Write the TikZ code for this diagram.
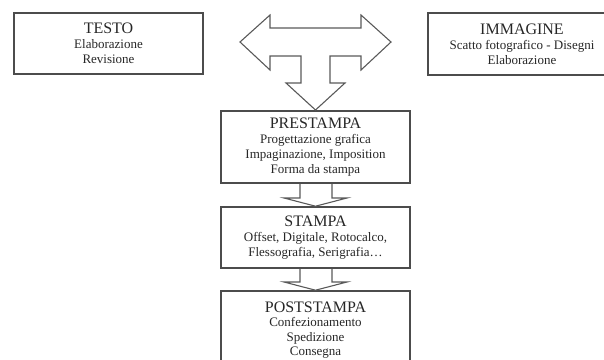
\documentclass[tikz,border=0pt]{standalone}
\usepackage{fontspec}
\setmainfont{Liberation Serif}
\begin{document}
\begin{tikzpicture}[x=1pt,y=-1pt,
  box/.style={draw=black!70, line width=1.6pt, inner sep=0pt, align=center, text=black!85,
    minimum width=189pt, font=\fontsize{13}{15}\selectfont},
  arr/.style={draw=black!65, line width=1.1pt, line join=miter},
]
\newcommand{\hd}[1]{{\fontsize{16}{17}\selectfont #1}}
\useasboundingbox (0,0) rectangle (604,359);
\begin{scope}
\clip (0,0) rectangle (604,359);
\node[box, minimum height=61pt] (testo) at (108.5,43.5) {\hd{TESTO}\\Elaborazione\\Revisione};
\node[box, minimum width=188pt, minimum height=62pt] (immagine) at (522,44) {\hd{IMMAGINE}\\Scatto fotografico - Disegni\\Elaborazione};
\node[box, minimum height=72pt] (pre) at (315.5,147) {\hd{PRESTAMPA}\\Progettazione grafica\\Impaginazione, Imposition\\Forma da stampa};
\node[box, minimum height=61pt] (stampa) at (315.5,237.5) {\hd{STAMPA}\\Offset, Digitale, Rotocalco,\\Flessografia, Serigrafia\dots};
\node[box, minimum height=78pt, font=\fontsize{13}{14.6}\selectfont] (post) at (315.5,330) {\hd{POSTSTAMPA}\\Confezionamento\\Spedizione\\Consegna};
% big T-shaped arrow
\draw[arr] (240,42) -- (270,15) -- (270,28) -- (361,28) -- (361,15) -- (391,42) -- (361,70)
  -- (361,56) -- (330,56) -- (330,83) -- (345,83) -- (315.5,110) -- (286,83) -- (301,83)
  -- (301,56) -- (270,56) -- (270,70) -- cycle;
% small arrows
\draw[arr] (pre.south -| 300,0) -- (300,198) -- (284,198) -- (stampa.north) -- (347,198) -- (332,198) -- (pre.south -| 332,0);
\draw[arr] (stampa.south -| 300,0) -- (300,282) -- (284,282) -- (post.north) -- (347,282) -- (332,282) -- (stampa.south -| 332,0);
\end{scope}
\end{tikzpicture}
\end{document}
